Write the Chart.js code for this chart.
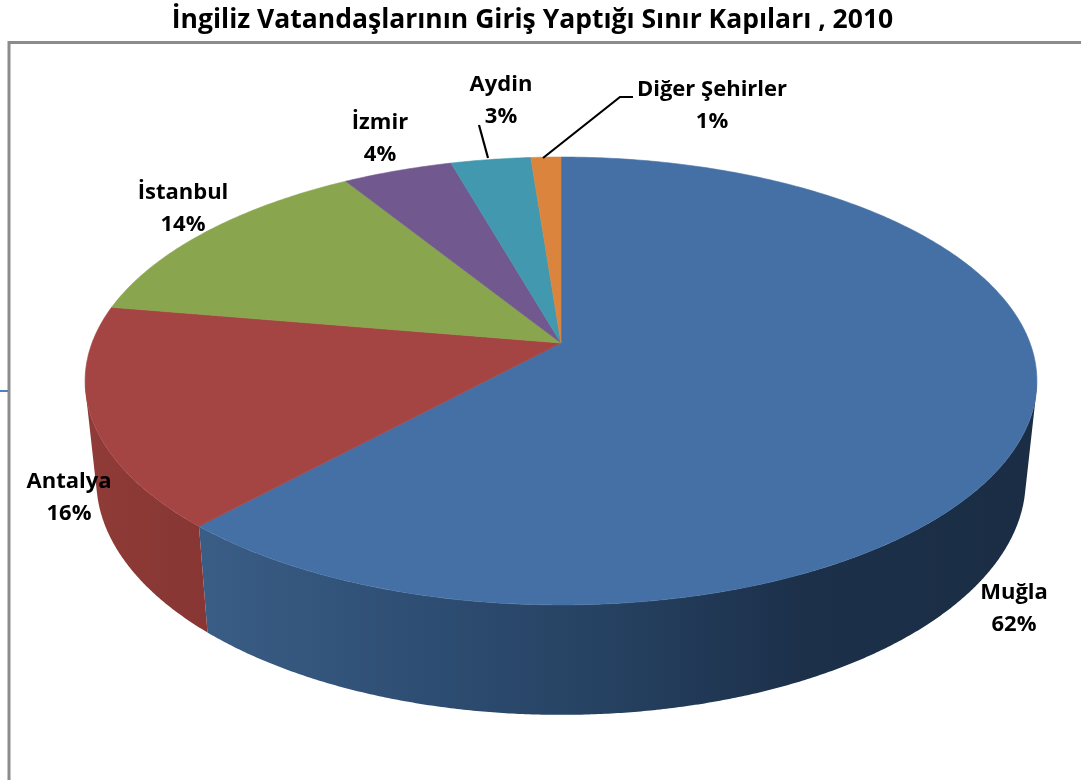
<!DOCTYPE html>
<html><head><meta charset="utf-8">
<script src="https://cdn.jsdelivr.net/npm/chart.js@4"></script>
<style>html,body{margin:0;padding:0;background:#fff}canvas{display:block}</style>
</head><body>
<canvas id="c" width="1081" height="780"></canvas>
<script>
const chartTitle = "İngiliz Vatandaşlarının Giriş Yaptığı Sınır Kapıları , 2010";
const categories = ["Muğla","Antalya","İstanbul","İzmir","Aydin","Diğer Şehirler"];
const shares = [61.8,15.9,13.5,4.4,3.2,1.2];
const sliceColors = ["#4570a5","#a54543","#89a54e","#71588f","#4198af","#db843d"];
const wallStops = [
  [[208,"#3a5d85"],[400,"#2f4f75"],[600,"#264262"],[800,"#1c304a"],[1040,"#1a2d44"]],
  [[90,"#8f3b38"],[208,"#873633"]],
  [[0,"#6e8540"],[1081,"#6e8540"]],
  [[0,"#5a4672"],[1081,"#5a4672"]],
  [[0,"#337a8c"],[1081,"#337a8c"]],
  [[0,"#b06a30"],[1081,"#b06a30"]]
];
const labelSpots = [[1014,593],[69,482],[183,193],[380,123],[501,85],[712,90]];
const TILT = 0.1696;
const TOP = {cx:561, cy:343, a:217.5, b:469};
const BASE = {cx:561, cy:440.3, a:228, b:458};
function project(g,ang){
  const X=Math.cos(ang),Y=Math.sin(ang),w=1-TILT*Y;
  return [g.cx+g.b*X/w, g.cy+g.a*Y/w];
}
function arcPath(ctx,g,a0,a1,first){
  const n=Math.max(4,Math.ceil(Math.abs(a1-a0)/0.01));
  for(let i=0;i<=n;i++){
    const p=project(g,a0+(a1-a0)*i/n);
    if(i===0&&first) ctx.moveTo(p[0],p[1]); else ctx.lineTo(p[0],p[1]);
  }
}
function quadPath(ctx,pts){
  let area=0;
  pts.forEach((p,i)=>{const q=pts[(i+1)%4];area+=p[0]*q[1]-q[0]*p[1];});
  const list=area<0?pts.slice().reverse():pts;
  ctx.moveTo(list[0][0],list[0][1]);
  for(let i=1;i<4;i++)ctx.lineTo(list[i][0],list[i][1]);
  ctx.closePath();
}
const pie3d = {
  id:"pie3d",
  beforeDraw(chart){
    const ctx=chart.ctx;
    ctx.save();
    ctx.strokeStyle="#8c8c8c";ctx.lineWidth=3;
    ctx.beginPath();ctx.moveTo(9,780);ctx.lineTo(9,42.5);ctx.lineTo(1081,42.5);ctx.stroke();
    ctx.strokeStyle="#4f81bd";ctx.lineWidth=2;
    ctx.beginPath();ctx.moveTo(0,391);ctx.lineTo(8,391);ctx.stroke();
    ctx.restore();
  },
  beforeDatasetDraw(chart,args){
    const ctx=chart.ctx, arcs=args.meta.data;
    ctx.save();
    arcs.forEach((el,i)=>{
      const stops=wallStops[i];
      const x0=stops[0][0],x1=stops[stops.length-1][0];
      const g=ctx.createLinearGradient(x0,0,x1,0);
      stops.forEach(s=>g.addColorStop((s[0]-x0)/(x1-x0),s[1]));
      ctx.fillStyle=g;
      const n=Math.max(2,Math.ceil((el.endAngle-el.startAngle)/0.006));
      ctx.beginPath();
      for(let k=0;k<n;k++){
        const a0=el.startAngle+(el.endAngle-el.startAngle)*k/n;
        const a1=el.startAngle+(el.endAngle-el.startAngle)*(k+1)/n;
        if(Math.sin(a0)<TILT&&Math.sin(a1)<TILT) continue;
        quadPath(ctx,[project(TOP,a0),project(TOP,a1),project(BASE,a1),project(BASE,a0)]);
      }
      ctx.fill();
    });
    arcs.forEach((el,i)=>{
      ctx.fillStyle=el.options.backgroundColor;
      ctx.strokeStyle=el.options.backgroundColor;
      ctx.lineWidth=0.6;
      ctx.beginPath();
      ctx.moveTo(TOP.cx,TOP.cy);
      arcPath(ctx,TOP,el.startAngle,el.endAngle,false);
      ctx.closePath();ctx.fill();ctx.stroke();
    });
    ctx.restore();
    return false;
  },
  afterDraw(chart){
    const ctx=chart.ctx;
    ctx.save();
    ctx.strokeStyle="#000";ctx.lineWidth=2.2;
    ctx.beginPath();ctx.moveTo(479,125);ctx.lineTo(488,158);ctx.stroke();
    ctx.beginPath();ctx.moveTo(633,97);ctx.lineTo(620,97);ctx.lineTo(543,158);ctx.stroke();
    ctx.fillStyle="#000";ctx.textAlign="center";ctx.textBaseline="middle";
    ctx.font="bold 22px 'Open Sans'";
    categories.forEach((name,i)=>{
      const s=labelSpots[i];
      ctx.fillText(name,s[0],s[1]);
      ctx.fillText(Math.round(shares[i])+"%",s[0],s[1]+32);
    });
    ctx.restore();
  }
};
new Chart(document.getElementById("c"),{
  type:"pie",
  data:{labels:categories,datasets:[{data:shares,backgroundColor:sliceColors,borderWidth:0}]},
  options:{
    responsive:false,animation:false,rotation:0,
    layout:{padding:{right:16}},
    plugins:{
      legend:{display:false},tooltip:{enabled:false},
      title:{display:true,fullSize:false,text:chartTitle,color:"#000",font:{family:"'Open Sans'",size:26.5,weight:"bold"},padding:{top:5,bottom:3}}
    }
  },
  plugins:[pie3d]
});
</script>
</body></html>
